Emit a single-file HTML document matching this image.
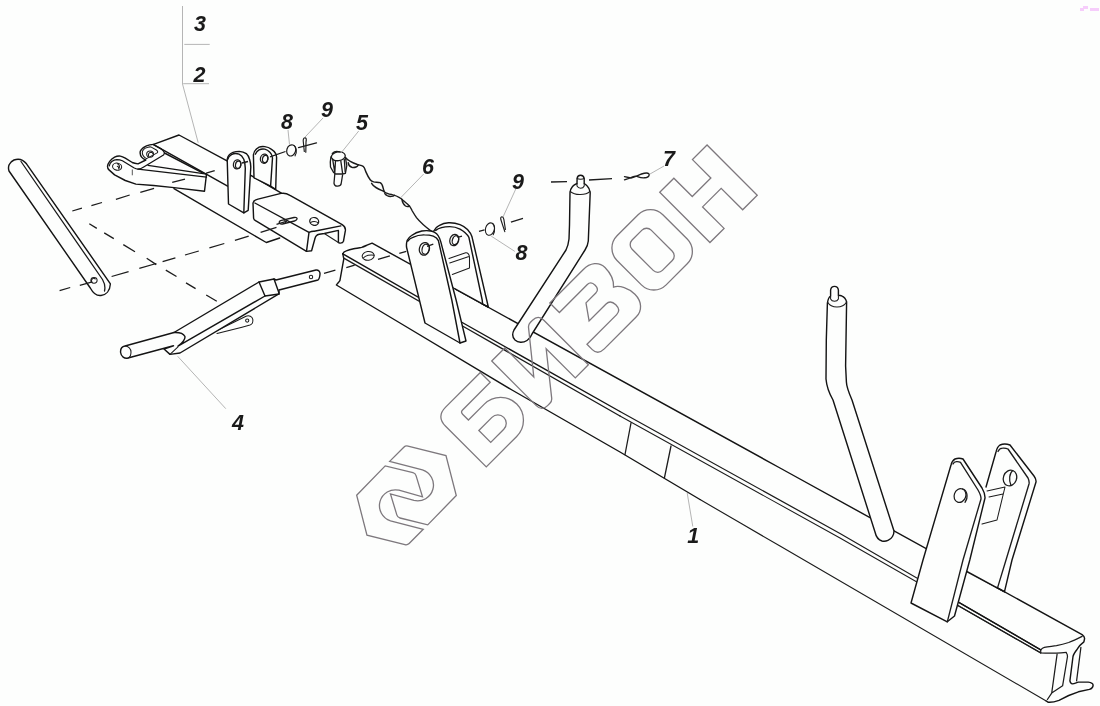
<!DOCTYPE html>
<html><head><meta charset="utf-8">
<style>
html,body{margin:0;padding:0;background:#fdfefd;}
body{width:1100px;height:706px;overflow:hidden;font-family:"Liberation Sans",sans-serif;}
svg{display:block;position:absolute;left:0;top:0;}
.k{fill:none;stroke:#141414;stroke-width:1.42;stroke-linecap:round;stroke-linejoin:round;}
.t{fill:none;stroke:#1c1c1c;stroke-width:1.05;stroke-linecap:round;stroke-linejoin:round;}
.w{fill:#fdfefd;stroke:#141414;stroke-width:1.42;stroke-linecap:round;stroke-linejoin:round;}
.d{fill:none;stroke:#1c1c1c;stroke-width:1.3;stroke-linecap:butt;}
.l{fill:none;stroke:#a2a2a2;stroke-width:0.8;}
.wm{fill:none;stroke:#7d787d;stroke-width:1.3;stroke-linejoin:miter;}
.n{font-family:"Liberation Sans",sans-serif;font-weight:bold;font-style:italic;font-size:21.5px;fill:#1a1a1a;text-anchor:middle;}
#p5 .t{stroke-width:1.3}
</style></head><body>
<svg width="1100" height="706" viewBox="0 0 1100 706">
<defs><filter id="gs" x="0" y="0" width="1100" height="706" filterUnits="userSpaceOnUse"><feColorMatrix type="saturate" values="0"/></filter></defs>
<rect width="1100" height="706" fill="#fdfefd"/>
<!-- pink artifact -->
<rect x="1083" y="6" width="5" height="3" fill="#f6cdfb"/><rect x="1080" y="8" width="4" height="3" fill="#f6cdfb"/><rect x="1090" y="8" width="9" height="3" fill="#f6cdfb"/>



<!-- handle bar -->
<g class="k">
<path class="w" d="M9,171 L90.3,288 C93,293 97,296 101,295.5 C106,295 110,291 110.4,283.8 L26.5,163.8 C23,159.5 18,158.5 14,160 C9.5,162 7.5,166.5 9,171 Z"/>
<path class="t" style="stroke-width:1.3" d="M21,161.5 L102.5,279.5 C104.5,283 105.5,287 104.5,291"/>
<ellipse class="t" cx="94" cy="280.3" rx="3.1" ry="2.9"/><path class="t" d="M92.2,282.3 A2,2 0 0 1 95.3,279"/>
</g>
<!-- part 2 plate -->
<g class="k">
<path d="M153.6,144.4 L179,135 L227.5,161.2"/>
<path d="M250.8,175.3 L281.4,193.1"/>
<path d="M153.6,144.7 L227.6,186.1"/>
<path d="M164.5,153 L202,172.7"/>
<path d="M174,188.6 L266.3,242.5 L279.7,238"/>
<!-- arm -->
<path d="M153.6,144.4 C150,144.6 148,145.2 146.5,145.8 C144,147 142.5,148 141.6,149.3 C140.5,150.5 140,151.7 140.1,152.9 C140.2,154.5 140.7,156 141.6,157.1 C142.7,158.5 144.2,159.4 145.8,160 L138,163.9 C136,163.6 134,163.2 132.3,162.5 L125.3,158.2 C123.5,157.2 122,156.5 120.3,156.1 C118.3,155.9 116.3,156.3 114.6,157.1 C112.6,158.2 111,159.6 109.7,161.4 C108.5,163 107.6,164.6 107.5,166.3 C107.5,167.8 108,169 109,169.9 L114.6,174.9 L125.3,180.5 L135.9,184.1 L153.6,185.5 L174,187.6 L204.5,191.2 L206.5,174"/>
<path style="stroke-width:1.25" d="M109.3,165.8 C109.6,163.8 110.5,162.4 111.8,161.4 C113.3,160.3 115,159.7 116.8,159.6 C118.8,159.6 120.8,160 122.4,160.7 L128.1,164.2 L133.8,167.8 C135.3,168.6 136.7,169.1 138,169.2 C140,169 142,168.2 143.7,167 L163.5,155 C164.2,154.2 164.5,153.2 164.2,152.2 C163.5,150.8 162.3,149.6 160.7,148.6 L153.6,144.7"/>
<path style="stroke-width:1.25" d="M148,165.3 L206.5,174.1 M138,169.2 L206.5,177.2"/><path class="t" style="stroke-width:0.9;stroke:#444" d="M132.3,169.9 L132.3,174.9"/>
<path class="t" d="M148,147.2 C146,147.7 144.5,148.4 143.7,149.3 C142.6,150.4 142.2,151.6 142.3,152.9 C142.4,154.3 142.9,155.5 143.7,156.4 C144.5,157.4 145.5,158.1 146.5,158.6 L157.6,152.6 C158,151.7 157.5,150.7 156.4,150 L150.8,146.9 C149.8,146.8 148.8,146.9 148,147.2 Z"/>
<ellipse class="t" cx="150.1" cy="154.1" rx="3.4" ry="3.1"/><path class="t" d="M148.6,156 C148,154.2 149,152.6 150.8,152.3 C152,152.3 152.8,153 153,154"/>
<ellipse class="t" cx="117.1" cy="166.7" rx="4.6" ry="3.5" transform="rotate(12 117.1 166.7)"/><path class="t" d="M117.5,163.8 C119.3,164.8 120,166.8 118.8,169 M117.3,166.2 C118.3,166.5 118.8,167.3 118.6,168.2"/>
</g>
<!-- lug 2 (rear) -->
<g class="k">
<path class="w" d="M254,177.8 L253.4,154.9 C253.6,152 255,149.5 259.1,147.2 C261,146.3 263,146.4 264.8,146.6 C267.5,147 269.5,147.8 271.2,149.1 C273.5,150.5 275,152.3 275.7,153.6 C276.3,155 276.6,156.5 276.6,157.4 L275.7,189.3 L270.6,186.1 Z"/>
<path d="M270.6,186.1 L272.5,158 C272.3,155.5 271.5,153.8 269.9,152.3 C268.5,150.8 266.8,149.6 264.8,149.1 C262.5,148.7 260.8,149 259.1,149.8 C257.3,150.8 256,152.3 255.3,154.2"/>
<g class="t" style="stroke-width:1.25"><ellipse cx="264.2" cy="158.7" rx="3.8" ry="4.6" transform="rotate(12 264.2 158.7)"/><ellipse cx="265.1" cy="159" rx="2.6" ry="3.6" transform="rotate(12 265.1 159)"/></g>
</g>
<!-- lug 1 (front) -->
<g class="k">
<path class="w" d="M228.5,204 L227.2,159.3 C227.6,157 228.2,155.8 229.1,154.9 C230.2,153.6 231.5,152.8 233,152.3 C235,151.6 237,151.4 239.3,151.4 C242,151.6 244.3,152.3 246.3,153.6 C247.8,155 249,157 249.5,159.3 C250.4,162 250.8,164.5 250.8,167 L248.2,210.3 L243.8,212.9 Z"/>
<path d="M243.8,212.9 L245.3,168.2 C245.2,165 244.8,162 243.8,159.3 C242.6,156.8 241,155 239,154.2 C236.5,153.3 233.5,153.6 231.5,154.6 C229.5,155.7 228.2,157.3 227.6,159.5"/>
<g class="t" style="stroke-width:1.25"><ellipse cx="237.2" cy="164.4" rx="3.8" ry="4.6" transform="rotate(10 237.2 164.4)"/><ellipse cx="238.1" cy="164.8" rx="2.6" ry="3.6" transform="rotate(10 238.1 164.8)"/></g>
</g>
<!-- channel -->
<g class="k">
<path class="w" d="M253,203 C253.3,201 255,199.8 258,199.1 L281,193.4 C284.5,192.7 287,193.5 290,195.3 L342.2,224.6 C344.5,226 345.6,228 345.4,230.4 L343.5,241.2 C343,242.5 341.5,243.3 339.7,243.1 L338.4,242.5 L338.4,230.4 L324.3,233.5 L319.3,234.3 C316.5,234.8 315.3,236.5 314.9,238.8 L311.6,250.8 L306.5,251.4 L256.8,221.4 C254.5,220.3 253.7,219.3 253.6,218.2 Z"/>
<path d="M254.9,203 L309,232.3 L306.5,251.4"/>
<path d="M309,232.3 C311,231.5 313,231.2 314.2,231.3 L340.9,225.9"/>
<path class="t" d="M324.3,233.5 L338.4,242.5"/>
<path class="t" style="stroke-width:1.3" d="M279.7,223.4 C278.5,222 279.5,220.8 281.5,220.3 L294,217.5 C296.3,217 297.6,218 296.9,219.3 C296.5,220.3 295.5,220.8 294.5,221 L282.5,224 C281,224.2 280.3,224 279.7,223.4 Z"/>
<path class="t" d="M284,219.8 C285.5,220.5 286,222 285.2,223.3"/>
<ellipse class="t" style="stroke-width:1.3" cx="314.2" cy="221.4" rx="4.5" ry="3.8" transform="rotate(15 314.2 221.4)"/><path class="t" d="M310.5,222.6 C312.5,221 316,221 318.2,222.8"/>
</g>
<!-- part 5 -->
<g class="k" id="p5">
<path class="t" d="M330.9,157 C330.3,160 330.2,164 330.5,167 L333.7,172.6 L335.5,174 L342.6,174 L345.4,173.3 L346.8,165.6 L345.4,157.4"/>
<ellipse class="t" cx="338.3" cy="156.3" rx="7" ry="4.4" transform="rotate(-8 338.3 156.3)"/>
<path class="t" d="M332.3,153.5 C334,151.5 337,151 339.5,151.8"/>
<path class="t" d="M332.6,158.8 L334.8,172.6 M335.5,160.8 L334.8,172.6 M340.8,160.8 L342.6,173.3 M344.3,159.5 L345.2,172"/>
<path class="t" d="M334.8,174 L334,183.3 C334.5,185.5 336,186.3 337.6,186.1 C339.5,186 340.8,185.3 341.1,184 L342.6,174.8"/>
</g>
<!-- chain 6 -->
<g class="t" style="stroke-width:1.45">
<path d="M345.4,157.5 C347,159.5 348.5,160.5 350.3,161.3 C353,162.8 355,163.6 357.4,164.5 C359.5,165.2 361.5,165.3 363.1,166.3 C364.8,167.8 365.2,170 365.9,171.9 C367,174.5 368.5,177.5 370.2,179.7 C371.2,181 372.5,181.6 373.7,181.9 C376,182.3 378.2,182 380.1,182.6 C382,183.5 382.6,185.5 383,187.5 C383.4,189.3 383.6,190.8 384.6,192 C386.5,193.8 389.5,194.2 392,194.6 C395,195.3 398,196.5 400,197.8 C402,199 402.5,200 403.5,200.8 C405.5,202.5 407.8,204 409.5,206.1 C411,208 411.5,209.5 412.3,211 C413.8,213.5 415,215.5 416.5,217.6 C420,222 427,228 431.8,231.6"/>
<path d="M348.2,162.7 C348.5,165 350,166.8 351.8,167.3 C353.5,167.6 355,167.4 356,167 C357,166.6 357.8,166 358.1,165.2"/>
<path d="M371.6,183.3 C372.8,185.3 374.3,186.6 375.9,187.5 C377.8,188.6 379.8,189.6 381.5,190.4 C382.6,190.9 383.6,191.4 384.4,191.8"/>
<path d="M384.8,193.6 C386.5,195.8 389,196.7 391.5,196.4 C393,196.2 394,195.6 394.5,195.2"/>
<path d="M402,199.4 C402.3,202 403.5,204.5 405.5,206 C406.8,206.8 408.3,206.7 409.5,206.1"/>
</g>
<!-- washers & cotters -->
<g class="t">
<ellipse cx="291.2" cy="150.4" rx="4.4" ry="5.7" transform="rotate(18 291.2 150.4)" style="stroke-width:1.2"/>
<path d="M293.8,145.4 C296.6,146.8 297.4,152 295,155.9"/>
<path d="M304.3,151.5 L303.2,140.8 C303.2,138.5 304.2,137.5 305.2,137.8 C306.3,138.2 306.5,140 306,142 L305.8,152.3" style="stroke-width:1.15"/>
<path d="M298.5,147.6 L316.5,142.9" style="stroke-width:1.25"/>
<ellipse cx="489.9" cy="229.1" rx="4.4" ry="6.3" transform="rotate(15 489.9 229.1)"/>
<path d="M492.2,223.3 C494.8,224.5 495.6,230.5 493.2,234.8"/>
<path d="M504.8,231.6 L500.9,219.8 C500.4,218 500.8,216.8 501.8,216.7 C502.9,216.7 503.6,218 503.9,219.6 L505.4,229.5" style="stroke-width:1.15"/>
<path d="M624.5,176.6 L631,178 C635,177.3 638,175.2 641.5,174 C644.5,173 647.5,172.5 648.8,173.7 C649.8,175 648.8,176.8 646.5,177.5 C643.5,178.2 640.5,177.8 638.3,176.8 C636,175.8 633.5,176 631,177.6 L624.5,179.8" style="stroke-width:1.35"/>
</g>
<!-- part 4 -->
<g class="k">
<path class="t" d="M216,331 L246,316.2 C249,315 252.3,316.5 252.8,319.3 C253.2,322 252,324.3 250,325 L242,327.2 L217,333.5"/>
<circle class="t" cx="247.2" cy="320.6" r="1.6"/>
<path class="w" d="M125,346 L174,332.5 L259,282 L274,279 L276,280 L316,270 C318.5,269.8 320.2,271.5 320,274 C319.8,277 319,279.2 318,280 L279,290 L279,294 L278,294.4 L180,353 L170,354.4 L164,349 L173.5,345.8 L128,358 C124.5,358.8 121,356.5 120.6,352.5 C120.3,348.8 122,346.5 125,346 Z"/>
<path class="t" d="M125,346 C128.5,346 131,348.8 131,352 C131,355.5 129.7,357.5 128,358"/>
<path d="M174,332.5 C179,332.3 183.5,333.5 184.8,336.3 C185.8,339 182,343.5 178,346.2 L265,296"/>
<path d="M259,282 L265,296 L279,294 M274,279 L279,293"/>
<path class="t" d="M170,354.4 L178,346.8"/>
<circle class="t" cx="311" cy="277" r="1.7"/>
</g>
<!-- BEAM -->
<g class="k">
<!-- top face + front face silhouette fill -->
<path d="M342.8,253.8 C343.5,252 344.8,251.4 346.3,250.9 C349,249.8 351.5,249.2 353.7,248.7 C356.5,248.2 359.5,248 361.7,247.4 C364,246.6 366,245.6 367.6,244.9 L372.1,243.1 L457,290 L780,468 L1082.1,634.6 C1084,636 1084.8,637.5 1084.5,639 L1083.9,641.9 C1081,644 1078.5,647 1077.2,649.2 C1075,652 1073.5,654 1073,656.5 L1069.9,680.9 C1070.3,682.8 1071.3,683.8 1072.4,683.9 C1074.5,683.6 1076.5,682.6 1078.4,682.1 L1088.2,682.1 C1091,682.5 1093,683.5 1093.1,685.1 C1093,687.3 1091.5,688.7 1089.4,689.4 L1078.4,691.8 L1068.7,695.5 L1059,700.4 C1055,701.8 1051,702.5 1048,702.2 L1046.2,701 L780,546 L740,522.8 L620,452 L512,390 L400,323 L336.4,285 C337.5,283.5 339,282 339.9,280.6 L343.8,258.8 Z" style="fill:#fdfefd;stroke:none"/>
<path d="M342.8,253.8 C343.5,252 344.8,251.4 346.3,250.9 C349,249.8 351.5,249.2 353.7,248.7 C356.5,248.2 359.5,248 361.7,247.4 C364,246.6 366,245.6 367.6,244.9 L372.1,243.1 L457,290 L780,468 L1082.1,634.6 C1084,636 1084.8,637.5 1084.5,639 L1083.9,641.9 C1081,644 1078.5,647 1077.2,649.2 C1075,652 1073.5,654 1073,656.5 L1069.9,680.9 C1070.3,682.8 1071.3,683.8 1072.4,683.9 C1074.5,683.6 1076.5,682.6 1078.4,682.1 L1088.2,682.1 C1091,682.5 1093,683.5 1093.1,685.1 C1093,687.3 1091.5,688.7 1089.4,689.4 L1078.4,691.8 L1068.7,695.5 L1059,700.4 C1055,701.8 1051,702.5 1048,702.2 L1046.2,701"/>
<path class="t" style="stroke-width:1.15" d="M1046.2,701 L780,546 L740,522.8 L700,499.5"/>
<path d="M700,499.5 L620,452 L512,390 L400,323 L336.4,285 C337.5,283.5 339,282 339.9,280.6 L343.8,258.8 L342.8,253.8"/>
<!-- near top edge and flange line -->
<path d="M342.8,253.8 L464,323.5 L620,411.5"/><path class="t" style="stroke-width:1.25" d="M620,411.5 L840,533.5 L1040.7,649.8"/>
<path class="t" style="stroke-width:1.35" d="M343.8,258.2 L466,328 L620,416"/><path class="t" d="M620,416 L840,538 L1040.7,652.9"/>

<!-- end profile -->
<path class="t" style="stroke-width:1.25" d="M1040.7,649.8 C1042,648.3 1043,647.7 1044.4,647.4 C1048.5,646.5 1052.5,646.3 1056.5,645.6 C1060.5,644.8 1064.5,643.8 1068.7,642.5 C1073.5,640.8 1078,638.5 1082.1,636.4"/>
<path class="t" style="stroke-width:1.25" d="M1040.7,649.8 L1040.7,652.9 C1046,653.3 1051,653.3 1056.5,653.1 C1060,653 1063,652.7 1066.3,652.3"/>
<path class="t" style="stroke-width:1.25" d="M1057.1,654.1 L1051.7,693.1 L1047.4,699.5 M1066.3,652.9 C1067.3,654 1067.5,655.5 1067.5,656.5 L1062.6,685.8 L1051.7,693.1 M1080.9,647.4 L1076.6,680.9"/>
<path d="M957.5,601.6 L1040.7,649.8"/><path class="t" style="stroke-width:1.35" d="M957,605 L1040.7,652.9"/>
<!-- vertical marks -->
<path class="t" style="stroke-width:1.3" d="M631,423 L625,454.5 M671,446 L664.4,478"/>
<!-- hole on top -->
<ellipse class="t" cx="368.2" cy="255.9" rx="6" ry="4.4" transform="rotate(-8 368.2 255.9)"/>
<path class="t" d="M363.3,258 C365.5,255.5 370.5,254.3 374,255.3"/>
</g>
<!-- beam left lug 2 (rear) -->
<g class="k">
<path style="fill:#fdfefd;stroke:none" d="M433.8,231 C434.8,228.5 436.5,226.8 439,225.6 C442,224 445,223 448.5,222.8 C452.5,222.6 456.5,223.3 460,224.6 C463,225.8 465.5,227.4 467.5,229.5 C469.8,232 471.3,234.5 472,236.8 L486.7,300 L488.3,307 L482,303.8 L457,290 L445,262 Z"/><path d="M433.8,231 C434.8,228.5 436.5,226.8 439,225.6 C442,224 445,223 448.5,222.8 C452.5,222.6 456.5,223.3 460,224.6 C463,225.8 465.5,227.4 467.5,229.5 C469.8,232 471.3,234.5 472,236.8 L486.7,300 L488.3,307 L482,303.8"/><path d="M455.5,289.2 L488.3,307.2"/>
<path d="M435.7,230.4 C438.5,228.2 443.5,226.7 449.7,226.6 C453.5,226.6 457,227.5 460,229.1 C464,231.3 467.3,234.3 468.9,237.4 L482.2,300 L482.6,304"/>
<g class="t" style="stroke-width:1.25"><ellipse cx="454.3" cy="240" rx="4.4" ry="5.8" transform="rotate(18 454.3 240)"/><ellipse cx="455.4" cy="240.2" rx="3" ry="4.6" transform="rotate(18 455.4 240.2)"/></g>
<!-- cross bar -->
<path class="t" d="M449,258.5 L465.7,252.7 C467.8,252.4 469.3,254.5 469.5,257.2 L469.5,268 L452.3,274.4 M449.7,262.9 L468.9,256.6"/>
</g>
<!-- beam left lug 1 (front) -->
<g class="k">
<path class="w" d="M406.5,247 C406.3,244.5 406.5,242.5 407.1,240.6 C408,238.3 409.5,236.8 411.6,235.5 C414.5,233.3 418,231.8 421.8,231 C425,230.5 428,230.5 430.7,231 C432.2,231.3 433.5,231.7 434.6,232.3 C437.5,233.8 439.5,236.8 440.8,241.9 L456.1,300 L466,341 L460,343 L425,323 Z"/>
<path d="M407.8,241.2 C409.3,239 410.8,238 412.9,237.4 C416.5,235.6 420.5,234.8 424.4,234.9 C427.5,234.9 430.5,235.2 433.3,236.1 C435.8,237 437.5,238.5 438.4,240.6 L451.8,300 L460,343"/>
<g class="t" style="stroke-width:1.25"><ellipse cx="424.4" cy="248.9" rx="5" ry="6.4" transform="rotate(15 424.4 248.9)"/><ellipse cx="425.6" cy="249.2" rx="3.5" ry="5.1" transform="rotate(15 425.6 249.2)"/></g>
</g>
<!-- rod 1 -->
<g class="k">
<path class="w" d="M570,192.7 L569.5,225 L569,239 C568.5,243.5 567.5,247 566,250 L514,330 C512.2,333.5 512.5,337.5 515,340 C518,342.8 523,343 527,340.5 C529.5,339 531,336.8 532,334 L585,250 C587,246.8 588,244.5 588.3,241 L590.2,192.7 C589.8,189.5 588.8,187.5 587,185.8 C586,184.8 585,184 584.2,183.5 L584.2,178.5 C583.8,176.2 582,175.3 580.6,175.3 C579,175.3 577.3,176.3 577.1,178.5 L577,183.5 C575,184.3 573.5,185.3 572.5,186.5 C571,188.2 570.3,190.3 570,192.7 Z"/>
<path class="t" d="M570.2,191.5 C573,193.8 577,194.6 580.4,194.5 C584,194.4 587.8,193.4 590,191.3"/>
<path class="t" d="M577,183.5 L577,186 C578,187.8 579.5,188.2 580.6,188.2 C582,188.2 583.5,187.6 584.2,186 L584.2,183.5"/>
<path class="t" d="M577.2,178.4 C578.3,179.6 582.8,179.6 584.1,178.4"/>
</g>
<!-- beam right lug 2 (rear) -->
<g class="k">
<path style="fill:#fdfefd;stroke:none" d="M996,452 C996.8,448.5 998,446.3 1000,445 C1003,443.6 1007,443.8 1010,445 L1034,476 C1035.5,478 1036.3,480 1036,482 L1012,560 L1004.5,591.6 L996.7,587.4 L966,572 L986,487 Z"/><path d="M986,487 L996,452 C996.8,448.5 998,446.3 1000,445 C1003,443.6 1007,443.8 1010,445 L1034,476 C1035.5,478 1036.3,480 1036,482 L1012,560 L1004.5,591.6 L996.7,587.4"/>
<path class="t" style="stroke-width:1.35" d="M998,451.5 C999,449.3 1000.5,448.3 1002.5,448.2 C1004.5,448 1006.5,448.3 1008,449 L1028,478 C1029,480 1029.4,482 1029,484 L1006,560 L997.6,587.6"/><path d="M964,570 L1004.5,591.8"/>
<g class="t" style="stroke-width:1.25"><ellipse cx="1010" cy="478" rx="6.6" ry="8" transform="rotate(20 1010 478)"/><path d="M1012.8,470.6 C1009.5,473 1008.5,480 1011,485.6"/></g>
<path class="t" d="M987,491 L1005,487 L997,520 L982,524 M989,497 L1003,494"/>
</g>
<!-- beam right lug 1 (front) -->
<g class="k">
<path class="w" d="M951,465 C951.8,462 953,460 955,459 C957.5,458 960.5,458 963,459 L982,488 C984,491.5 985.2,494.5 985,498 L969.8,560 L954.5,616 L947.3,621.8 L911,603 L923,560 Z"/>
<path class="t" style="stroke-width:1.35" d="M953,464 C953.7,462.5 955,461.8 956.5,461.7 C958,461.6 959.3,461.8 960.5,462.3 L978,490 C980,493.5 981.2,496 981,499 L963,560 L947.3,621.8"/>
<g class="t" style="stroke-width:1.25"><ellipse cx="960" cy="495.6" rx="5.8" ry="7" transform="rotate(20 960 495.6)"/><path d="M962.5,488.8 C967.3,490 968.6,497.5 965,502.3"/></g>
</g>
<!-- rod 2 -->
<g class="k" style="stroke-width:1.3">
<path class="w" d="M827.4,303 L826.3,340 L826,379 C826.5,385 829,393 833,400 L875,532 C876,536.5 878.5,540 882,541 C886,542 890.5,540 892.5,536.5 C893.5,534.8 894,533 894,531 L852,400 C848.5,392 846.5,387 846.4,382 L845.6,366 L846.6,302 C846,299 844,296.8 841.5,295.8 L838.4,295.2 L838.4,290 C838,287.5 836.2,286.4 834.5,286.4 C832.8,286.4 831,287.5 830.6,290 L830.6,296 C829,297 828,299 827.4,303 Z"/>
<path class="t" d="M827.5,302 C829.5,305.5 833,307 837,307 C841,307 844.8,305 846.6,302"/>
<path class="t" d="M830.6,296 L830.6,299 C831.5,300.8 833,301.3 834.5,301.3 C836.2,301.3 837.6,300.7 838.4,299 L838.4,295.2"/>
</g>
<g class="d">
<path d="M72.3,211 L81.9,208.2 M91.4,205.7 L102,202.5 M115.9,199.3 L129.7,195 M140.3,192.3 L154.1,188.3 M172.2,182.3 L185,179.1 M206.2,173.2 L214.7,170.6"/>
<path d="M59.6,290.7 L70.2,287.5 M79.8,285.4 L91.4,282.2 M111.6,276.5 L128.6,271.6 M139.3,268.4 L156.3,263.5 M162.6,261.6 L175.4,257.8 M185,255 L198.8,251 M209.4,247.8 L224.3,243.5 M234.9,240.3 L248.7,236.1 M260.6,232.3 L276.5,227.4 M276.5,224.4 L287,221.2"/>
<path d="M89.3,223.8 L96.8,228.4 M104.2,232.9 L113.8,238.6 M123.3,244.6 L135,251.8 M146.7,258.2 L156.3,264.6 M165.8,270.1 L176.5,276.5 M186,282.9 L195.6,288.6 M206.2,295 L216.8,301.3"/>
<path d="M324,273.4 L335.4,270.2 M346.3,267.7 L354.7,265.2 M378,259.3 L389.9,255.8 M399.3,253.3 L406.3,251.4 M427,246.3 L433.3,244.2 M457.5,237.4 L462,236.1 M479,231.3 L484.5,229.8 M510.9,222.1 L523,218.3"/>
<path d="M270,156.8 L285.5,151.5 M242,163 L248,161.5"/>
<path d="M551,182 L567,181.6 M589,180 L612,178.6"/>
</g>

<g class="l">
<path d="M182.5,6 V84 L198.2,142.7"/><path d="M184.3,44.4 H209.7"/><path d="M183.2,83.7 H209"/>
<path d="M288,130 L289.5,144.5"/><path d="M323,118 L304.8,137.3"/><path d="M358.7,131 L341,153"/>
<path d="M423.7,174 L400.6,197.8"/><path d="M516,188.5 L503,217"/><path d="M491.2,236.1 L514.8,251.4"/>
<path d="M664,166 L650,174"/><path d="M177.7,356.3 L225.8,408.7"/><path d="M687.2,493 L692.8,526.5"/>
</g>
<g class="n" filter="url(#gs)">
<text x="200" y="31.2">3</text><text x="199.4" y="81.8">2</text>
<text x="287" y="129">8</text><text x="327" y="117">9</text><text x="362" y="130">5</text>
<text x="428" y="173.5">6</text><text x="518" y="188.5">9</text><text x="521.5" y="259.7">8</text>
<text x="669" y="165.6">7</text><text x="238" y="429.8">4</text><text x="693.2" y="542.7">1</text>
</g>
<g class="wm">
<g id="lgA"><path d="M389.66,461.41 L403.8,447.2 Q405.6,445.46 408,446.05 L445.97,455.55 L456.28,495.52 L427.73,524.87 L400.0,518.0 Q397.59,517.41 396.9,515.1 L390.45,493.93 L413.97,500.49 A15.87,15.87 0 0 0 422.45,469.93 Z"/></g>
<path transform="rotate(180 406.47 495.36)" d="M389.66,461.41 L403.8,447.2 Q405.6,445.46 408,446.05 L445.97,455.55 L456.28,495.52 L427.73,524.87 L400.0,518.0 Q397.59,517.41 396.9,515.1 L390.45,493.93 L413.97,500.49 A15.87,15.87 0 0 0 422.45,469.93 Z"/>
<g transform="rotate(-45)">
<g transform="translate(13.7,603)">
<path d="M62.6,0 V14 H23.5 Q20.5,14 20.5,17 V25.25 H43 A23,22.875 0 0 1 43,71 H0 V13.5 Q0,0 13.5,0 Z"/>
<path d="M20.5,40 H39 A8.4,8.4 0 0 1 39,56.8 H20.5 Z"/>
</g>
<g transform="translate(92.4,603)">
<path d="M0,0 L18.5,0 L18.5,41 L49.5,2.6 Q51.5,0 54.5,0 L57.7,0 Q65.7,0 65.7,8 L65.7,71 L47.2,71 L47.2,29.8 L16.2,68.6 Q14.3,71 11.3,71 L8,71 Q0,71 0,63 Z"/>
</g>
<g transform="translate(174.6,603)">
<path d="M0,0 H47 C57,0 64,5.5 64,14 C64,22 61.5,29 56.3,33.8 C62,37 66.3,45 66.3,54 C66.3,64 60,71 51,71 H6 C0,71 -3,68 -3,63 V55.5 H39 C43,55.5 45.3,52.5 45.3,48 C45.3,43.5 43,40.5 39,40.5 H15 L25.6,25.5 H39.5 C43,25.5 44.6,23 44.6,19.5 C44.6,16 43,13.5 39.5,13.5 H0 Z"/>
</g>
<g transform="translate(252.1,603)">
<rect x="0" y="0" width="64.8" height="69.5" rx="17.5" ry="17.5"/>
<rect x="18.6" y="13.7" width="27" height="42.9" rx="6.5" ry="6.5"/>
</g>
<g transform="translate(330.5,602.5)">
<path d="M0,0 H20 V26 H46.3 V0 H66.9 V71 H46.3 V40.6 H20 V71 H0 Z"/>
</g>
</g>
</g>

</svg>
</body></html>
